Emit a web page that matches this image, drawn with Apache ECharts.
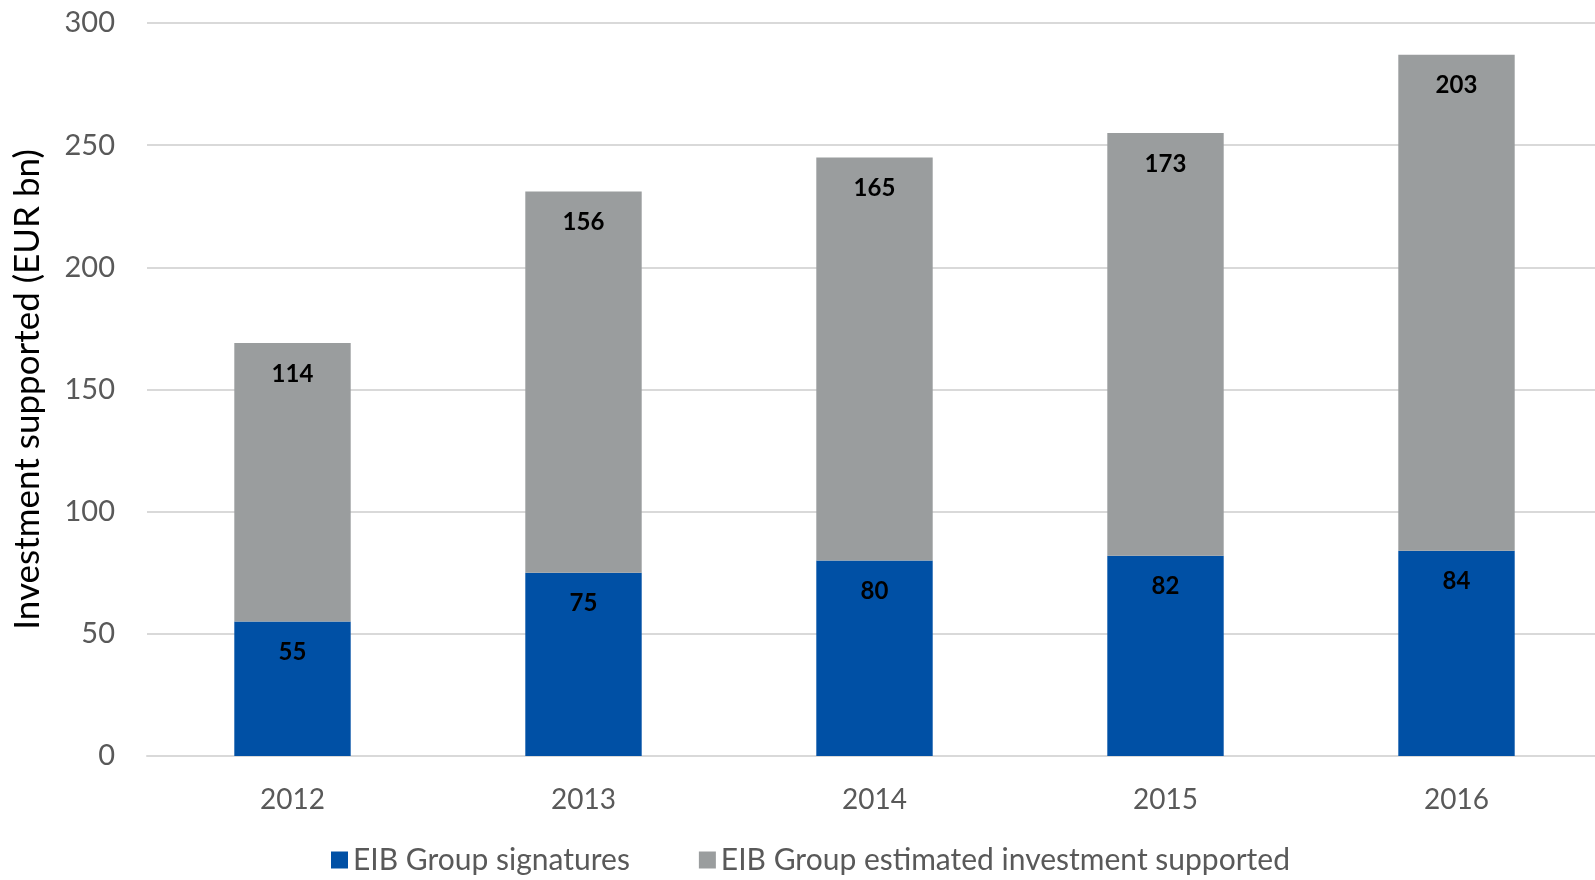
<!DOCTYPE html>
<html>
<head>
<meta charset="utf-8">
<script src="https://cdn.jsdelivr.net/npm/echarts@6/dist/echarts.min.js"></script>
<style>
  html, body { margin: 0; padding: 0; background: #fff; overflow: hidden; }
  #chart { width: 1602px; height: 880px; }
</style>
</head>
<body>
<div id="chart"></div>
<script>
  var years = ['2012', '2013', '2014', '2015', '2016'];
  var signatures = [55, 75, 80, 82, 84];
  var investment = [114, 156, 165, 173, 203];

  var font = 'Lato, "Open Sans", sans-serif';
  var chart = echarts.init(document.getElementById('chart'));
  chart.setOption({
    animation: false,
    textStyle: { fontFamily: font },
    color: ['#0050A5', '#9A9D9E'],
    grid: { left: 147, right: 0, top: 23, bottom: 124 },
    legend: {
      bottom: 0,
      left: 326,
      itemWidth: 17,
      itemHeight: 17,
      itemGap: 69,
      icon: 'rect',
      textStyle: { fontSize: 30, color: '#595959', fontFamily: font }
    },
    xAxis: {
      type: 'category',
      data: years,
      axisLine: { lineStyle: { color: '#d9d9d9', width: 2 } },
      axisTick: { show: false },
      axisLabel: { fontSize: 28, color: '#595959', margin: 30 }
    },
    yAxis: {
      type: 'value',
      min: 0,
      max: 300,
      interval: 50,
      name: 'Investment supported (EUR bn)',
      nameLocation: 'middle',
      nameGap: 102,
      nameTextStyle: { fontSize: 35, color: '#000' },
      axisLine: { show: false },
      axisTick: { show: false },
      axisLabel: { fontSize: 29, color: '#595959', margin: 32 },
      splitLine: { lineStyle: { color: '#d9d9d9', width: 2 } }
    },
    series: [
      {
        name: 'EIB Group signatures',
        type: 'bar',
        stack: 'total',
        barWidth: '40%',
        data: signatures,
        label: { show: true, position: 'insideTop', distance: 19, fontSize: 24, fontWeight: 'bold', color: '#000' }
      },
      {
        name: 'EIB Group estimated investment supported',
        type: 'bar',
        stack: 'total',
        barWidth: '40%',
        data: investment,
        label: { show: true, position: 'insideTop', distance: 19, fontSize: 24, fontWeight: 'bold', color: '#000' }
      }
    ]
  });
</script>
</body>
</html>
